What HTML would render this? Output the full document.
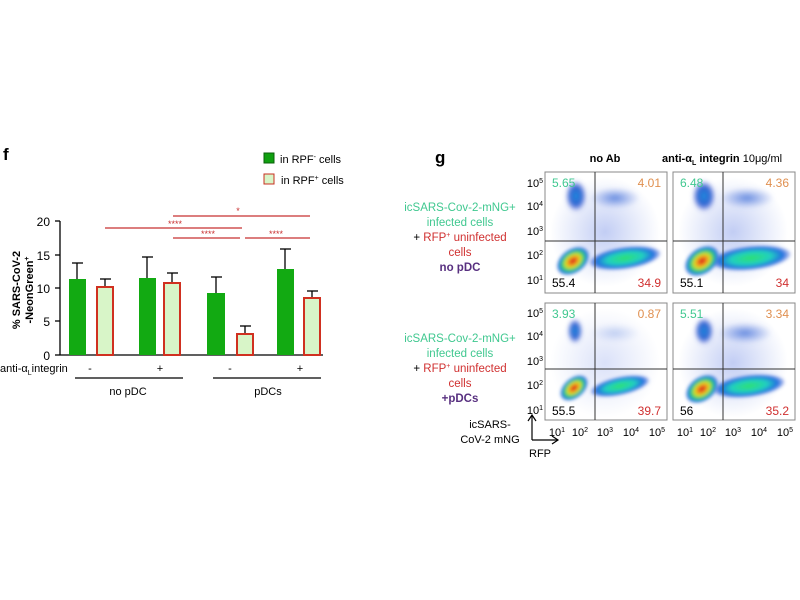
<!DOCTYPE html>
<html><head><meta charset="utf-8"><style>
body{margin:0;background:#fff;}
svg{display:block;font-family:"Liberation Sans",Arial,sans-serif;}
</style></head><body>
<svg width="800" height="600" viewBox="0 0 800 600" xmlns="http://www.w3.org/2000/svg">
<defs>
<filter id="bl" x="-50%" y="-50%" width="200%" height="200%"><feGaussianBlur stdDeviation="2.5"/></filter>
<filter id="bl2" x="-50%" y="-50%" width="200%" height="200%"><feGaussianBlur stdDeviation="1.5"/></filter>
<radialGradient id="hot"><stop offset="0" stop-color="#d0101a"/><stop offset="0.25" stop-color="#f08020"/><stop offset="0.45" stop-color="#e0e020"/><stop offset="0.65" stop-color="#30d070"/><stop offset="0.85" stop-color="#2080e0"/><stop offset="1" stop-color="#3050d0" stop-opacity="0.3"/></radialGradient>
<radialGradient id="grn"><stop offset="0" stop-color="#30e070"/><stop offset="0.5" stop-color="#20d0c0"/><stop offset="0.8" stop-color="#2070e0"/><stop offset="1" stop-color="#3050d0" stop-opacity="0.2"/></radialGradient>
<radialGradient id="blu"><stop offset="0" stop-color="#2090e0"/><stop offset="0.6" stop-color="#3060d0"/><stop offset="1" stop-color="#4050d0" stop-opacity="0.1"/></radialGradient>
<radialGradient id="lb"><stop offset="0" stop-color="#4070d8" stop-opacity="0.8"/><stop offset="1" stop-color="#6080e0" stop-opacity="0.05"/></radialGradient>
<radialGradient id="haze"><stop offset="0" stop-color="#5070e0" stop-opacity="0.35"/><stop offset="1" stop-color="#6080e0" stop-opacity="0"/></radialGradient>
</defs>

<!-- panel f -->
<text x="3" y="160" font-size="17" font-weight="bold">f</text>
<rect x="264" y="153" width="10" height="10" fill="#10a010" stroke="#0a600a"/>
<text x="280" y="163" font-size="11">in RPF<tspan font-size="7" dy="-4">-</tspan><tspan dy="4"> cells</tspan></text>
<rect x="264" y="174" width="10" height="10" fill="#d8f5c8" stroke="#c83020"/>
<text x="281" y="184" font-size="11">in RPF<tspan font-size="7" dy="-4">+</tspan><tspan dy="4"> cells</tspan></text>

<g stroke="#000" stroke-width="1.3" fill="none">
<line x1="60" y1="221" x2="60" y2="355"/><line x1="60" y1="355" x2="323" y2="355"/>
<line x1="55" y1="221" x2="60" y2="221"/><line x1="55" y1="255" x2="60" y2="255"/><line x1="55" y1="288" x2="60" y2="288"/><line x1="55" y1="321" x2="60" y2="321"/><line x1="55" y1="355" x2="60" y2="355"/>
</g>
<g font-size="12" text-anchor="end"><text x="50" y="226">20</text><text x="50" y="260">15</text><text x="50" y="293">10</text><text x="50" y="326">5</text><text x="50" y="360">0</text></g>
<text transform="translate(20,290) rotate(-90)" font-size="11" font-weight="bold" text-anchor="middle">% SARS-CoV-2</text>
<text transform="translate(33,290) rotate(-90)" font-size="11" font-weight="bold" text-anchor="middle">-NeonGreen<tspan font-size="7" dy="-4">+</tspan></text>

<g fill="#12aa12">
<rect x="69" y="279" width="17" height="76"/><rect x="139" y="278" width="17" height="77"/><rect x="207" y="293" width="18" height="62"/><rect x="277" y="269" width="17" height="86"/>
</g>
<g fill="#d8f5c8" stroke="#d03020" stroke-width="2">
<rect x="97" y="287" width="16" height="68"/><rect x="164" y="283" width="16" height="72"/><rect x="237" y="334" width="16" height="21"/><rect x="304" y="298" width="16" height="57"/>
</g>
<g stroke="#000" stroke-width="1.3">
<line x1="77" y1="279" x2="77" y2="263"/><line x1="72" y1="263" x2="83" y2="263"/>
<line x1="147" y1="278" x2="147" y2="257"/><line x1="142" y1="257" x2="153" y2="257"/>
<line x1="216" y1="293" x2="216" y2="277"/><line x1="211" y1="277" x2="222" y2="277"/>
<line x1="285" y1="269" x2="285" y2="249"/><line x1="280" y1="249" x2="291" y2="249"/>
<line x1="105" y1="286" x2="105" y2="279"/><line x1="100" y1="279" x2="111" y2="279"/>
<line x1="172" y1="282" x2="172" y2="273"/><line x1="167" y1="273" x2="178" y2="273"/>
<line x1="245" y1="333" x2="245" y2="326"/><line x1="240" y1="326" x2="251" y2="326"/>
<line x1="312" y1="297" x2="312" y2="291"/><line x1="307" y1="291" x2="318" y2="291"/>
</g>
<g stroke="#c83030" stroke-width="1.2">
<line x1="173" y1="216" x2="310" y2="216"/><line x1="105" y1="228" x2="242" y2="228"/>
<line x1="173" y1="238" x2="240" y2="238"/><line x1="245" y1="238" x2="310" y2="238"/>
</g>
<g fill="#c83030" font-size="9" text-anchor="middle">
<text x="238" y="214">*</text><text x="175" y="227">****</text><text x="208" y="237">****</text><text x="276" y="237">****</text>
</g>
<text x="0" y="372" font-size="11">anti-α<tspan font-size="7" dy="3">L</tspan><tspan dy="-3">integrin</tspan></text>
<g font-size="11" text-anchor="middle"><text x="90" y="372">-</text><text x="160" y="372">+</text><text x="230" y="372">-</text><text x="300" y="372">+</text></g>
<line x1="75" y1="378" x2="183" y2="378" stroke="#000" stroke-width="1.3"/>
<line x1="213" y1="378" x2="321" y2="378" stroke="#000" stroke-width="1.3"/>
<text x="128" y="395" font-size="11" text-anchor="middle">no pDC</text>
<text x="268" y="395" font-size="11" text-anchor="middle">pDCs</text>

<!-- panel g -->
<text x="435" y="163" font-size="17" font-weight="bold">g</text>
<text x="605" y="162" font-size="11" font-weight="bold" text-anchor="middle">no Ab</text>
<text x="662" y="162" font-size="11" font-weight="bold">anti-α<tspan font-size="7" dy="3">L</tspan><tspan dy="-3"> integrin </tspan><tspan font-weight="normal">10μg/ml</tspan></text>

<g font-size="11.5" text-anchor="middle">
<text x="460" y="211" fill="#40c890">icSARS-Cov-2-mNG+</text>
<text x="460" y="226" fill="#40c890">infected cells</text>
<text x="460" y="241"><tspan>+ </tspan><tspan fill="#d03030">RFP<tspan font-size="7" dy="-4">+</tspan><tspan dy="4"> uninfected</tspan></tspan></text>
<text x="460" y="256" fill="#d03030">cells</text>
<text x="460" y="271" fill="#583080" font-weight="bold">no pDC</text>
<text x="460" y="342" fill="#40c890">icSARS-Cov-2-mNG+</text>
<text x="460" y="357" fill="#40c890">infected cells</text>
<text x="460" y="372"><tspan>+ </tspan><tspan fill="#d03030">RFP<tspan font-size="7" dy="-4">+</tspan><tspan dy="4"> uninfected</tspan></tspan></text>
<text x="460" y="387" fill="#d03030">cells</text>
<text x="460" y="402" fill="#583080" font-weight="bold">+pDCs</text>
</g>

<g transform="translate(545,172)">
 <rect width="122" height="121" fill="#fff" stroke="#888"/>
 <ellipse cx="60" cy="60" rx="55" ry="55" fill="url(#haze)"/>
 <ellipse cx="70" cy="26" rx="24" ry="10" fill="url(#lb)" filter="url(#bl)"/>
 <ellipse cx="31" cy="24" rx="10" ry="15" fill="url(#blu)" filter="url(#bl)"/>
 <ellipse cx="80" cy="86" rx="36" ry="11" fill="url(#grn)" filter="url(#bl2)" transform="rotate(-8 80 86)"/>
 <ellipse cx="28" cy="89" rx="18" ry="12" fill="url(#hot)" filter="url(#bl2)" transform="rotate(-35 28 89)"/>
 <line x1="50" y1="0" x2="50" y2="121" stroke="#333"/><line x1="0" y1="69" x2="122" y2="69" stroke="#333"/>
 <text x="7" y="15" font-size="12" fill="#40c890">5.65</text><text x="116" y="15" font-size="12" fill="#e09050" text-anchor="end">4.01</text>
 <text x="7" y="115" font-size="12">55.4</text><text x="116" y="115" font-size="12" fill="#d03030" text-anchor="end">34.9</text>
</g>
<g transform="translate(673,172)">
 <rect width="122" height="121" fill="#fff" stroke="#888"/>
 <ellipse cx="60" cy="60" rx="55" ry="55" fill="url(#haze)"/>
 <ellipse cx="74" cy="26" rx="26" ry="10" fill="url(#lb)" filter="url(#bl)"/>
 <ellipse cx="31" cy="24" rx="11" ry="15" fill="url(#blu)" filter="url(#bl)"/>
 <ellipse cx="78" cy="86" rx="40" ry="12" fill="url(#grn)" filter="url(#bl2)" transform="rotate(-6 78 86)"/>
 <ellipse cx="29" cy="89" rx="19" ry="13" fill="url(#hot)" filter="url(#bl2)" transform="rotate(-35 29 89)"/>
 <line x1="50" y1="0" x2="50" y2="121" stroke="#333"/><line x1="0" y1="69" x2="122" y2="69" stroke="#333"/>
 <text x="7" y="15" font-size="12" fill="#40c890">6.48</text><text x="116" y="15" font-size="12" fill="#e09050" text-anchor="end">4.36</text>
 <text x="7" y="115" font-size="12">55.1</text><text x="116" y="115" font-size="12" fill="#d03030" text-anchor="end">34</text>
</g>
<g transform="translate(545,303)">
 <rect width="122" height="117" fill="#fff" stroke="#888"/>
 <ellipse cx="60" cy="60" rx="55" ry="55" fill="url(#haze)" opacity="0.6"/>
 <ellipse cx="70" cy="30" rx="24" ry="9" fill="url(#lb)" filter="url(#bl)" opacity="0.35"/>
 <ellipse cx="30" cy="28" rx="7" ry="12" fill="url(#blu)" filter="url(#bl)"/>
 <ellipse cx="75" cy="83" rx="30" ry="9" fill="url(#grn)" filter="url(#bl2)" transform="rotate(-12 75 83)"/>
 <ellipse cx="29" cy="85" rx="16" ry="10" fill="url(#hot)" filter="url(#bl2)" transform="rotate(-40 29 85)"/>
 <line x1="50" y1="0" x2="50" y2="117" stroke="#333"/><line x1="0" y1="66" x2="122" y2="66" stroke="#333"/>
 <text x="7" y="15" font-size="12" fill="#40c890">3.93</text><text x="116" y="15" font-size="12" fill="#e09050" text-anchor="end">0.87</text>
 <text x="7" y="112" font-size="12">55.5</text><text x="116" y="112" font-size="12" fill="#d03030" text-anchor="end">39.7</text>
</g>
<g transform="translate(673,303)">
 <rect width="122" height="117" fill="#fff" stroke="#888"/>
 <ellipse cx="60" cy="60" rx="55" ry="55" fill="url(#haze)"/>
 <ellipse cx="72" cy="30" rx="26" ry="10" fill="url(#lb)" filter="url(#bl)"/>
 <ellipse cx="31" cy="28" rx="9" ry="13" fill="url(#blu)" filter="url(#bl)"/>
 <ellipse cx="76" cy="83" rx="36" ry="11" fill="url(#grn)" filter="url(#bl2)" transform="rotate(-7 76 83)"/>
 <ellipse cx="29" cy="86" rx="18" ry="12" fill="url(#hot)" filter="url(#bl2)" transform="rotate(-35 29 86)"/>
 <line x1="50" y1="0" x2="50" y2="117" stroke="#333"/><line x1="0" y1="66" x2="122" y2="66" stroke="#333"/>
 <text x="7" y="15" font-size="12" fill="#40c890">5.51</text><text x="116" y="15" font-size="12" fill="#e09050" text-anchor="end">3.34</text>
 <text x="7" y="112" font-size="12">56</text><text x="116" y="112" font-size="12" fill="#d03030" text-anchor="end">35.2</text>
</g>

<g font-size="11" text-anchor="end">
<text x="543" y="187">10<tspan font-size="7" dy="-4">5</tspan></text>
<text x="543" y="210">10<tspan font-size="7" dy="-4">4</tspan></text>
<text x="543" y="235">10<tspan font-size="7" dy="-4">3</tspan></text>
<text x="543" y="259">10<tspan font-size="7" dy="-4">2</tspan></text>
<text x="543" y="284">10<tspan font-size="7" dy="-4">1</tspan></text>
<text x="543" y="317">10<tspan font-size="7" dy="-4">5</tspan></text>
<text x="543" y="340">10<tspan font-size="7" dy="-4">4</tspan></text>
<text x="543" y="365">10<tspan font-size="7" dy="-4">3</tspan></text>
<text x="543" y="389">10<tspan font-size="7" dy="-4">2</tspan></text>
<text x="543" y="414">10<tspan font-size="7" dy="-4">1</tspan></text>
</g>
<g font-size="11" text-anchor="middle">
<text x="557" y="436">10<tspan font-size="7" dy="-4">1</tspan></text><text x="580" y="436">10<tspan font-size="7" dy="-4">2</tspan></text><text x="605" y="436">10<tspan font-size="7" dy="-4">3</tspan></text><text x="631" y="436">10<tspan font-size="7" dy="-4">4</tspan></text><text x="657" y="436">10<tspan font-size="7" dy="-4">5</tspan></text>
<text x="685" y="436">10<tspan font-size="7" dy="-4">1</tspan></text><text x="708" y="436">10<tspan font-size="7" dy="-4">2</tspan></text><text x="733" y="436">10<tspan font-size="7" dy="-4">3</tspan></text><text x="759" y="436">10<tspan font-size="7" dy="-4">4</tspan></text><text x="785" y="436">10<tspan font-size="7" dy="-4">5</tspan></text>
</g>
<text x="490" y="428" font-size="11" text-anchor="middle">icSARS-</text>
<text x="490" y="443" font-size="11" text-anchor="middle">CoV-2 mNG</text>
<g stroke="#000" stroke-width="1.2" fill="none">
<line x1="532" y1="440" x2="532" y2="415"/><polyline points="528,421 532,415 536,421"/>
<line x1="532" y1="440" x2="558" y2="440"/><polyline points="552,436 558,440 552,444"/>
</g>
<text x="540" y="457" font-size="11" text-anchor="middle">RFP</text>
</svg>
</body></html>
